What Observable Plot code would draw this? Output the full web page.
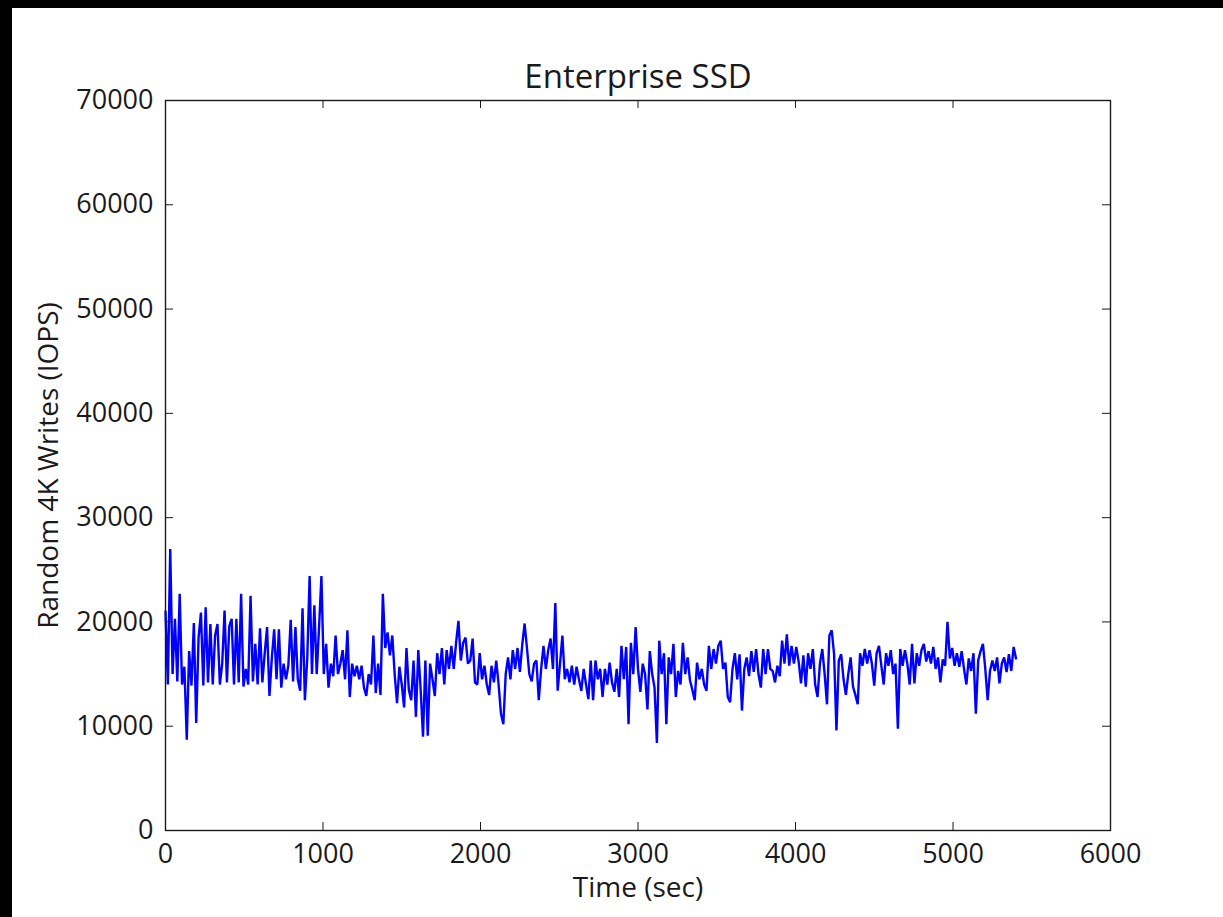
<!DOCTYPE html>
<html>
<head>
<meta charset="utf-8">
<script src="https://cdn.jsdelivr.net/npm/d3@7"></script>
<script src="https://cdn.jsdelivr.net/npm/@observablehq/plot@0.6"></script>
<style>
html, body { margin: 0; background: #000; }
body { padding: 8px 0 0 12px; width: 1211px; height: 909px; overflow: hidden; }
#chart { background: #fff; width: 1211px; height: 909px; }
</style>
</head>
<body>
<div id="chart"></div>
<script>
// ---- data ----
const title = "Enterprise SSD";
const xLabel = "Time (sec)";
const yLabel = "Random 4K Writes (IOPS)";
const xTicks = [0, 1000, 2000, 3000, 4000, 5000, 6000];
const yTicks = [0, 10000, 20000, 30000, 40000, 50000, 60000, 70000];
const sampleInterval = 15; // seconds between samples
const iops = [
  21000,14000,27000,15000,20300,14300,22700,14000,15700,8700,
  17200,13900,19900,10300,18500,20900,13900,21400,14200,19800,
  14000,18700,19800,14000,16000,21100,14200,19600,20300,14000,
  20300,14200,22700,13800,15500,14000,22500,14300,17900,14000,
  19400,14200,17000,19500,12900,16500,19300,14500,19300,13700,
  16000,14500,15800,20200,14300,19500,14500,13400,21300,12500,
  16500,24400,15000,21600,15000,19500,24400,15000,17900,13700,
  16000,14800,18700,15000,16000,17300,14500,19200,12800,16000,
  14800,15800,14500,15800,13700,12900,15000,14000,18700,13200,
  16000,13000,22700,17500,19000,16800,18700,15000,12200,15700,
  14000,11800,17500,13500,12500,16300,10900,17300,13500,9000,
  16300,9100,16000,14500,12900,17000,15000,17500,14000,17300,
  15500,17700,15500,18000,20100,16300,18000,18500,16000,16300,
  18400,14200,14000,17000,14500,15800,14000,13000,15800,14200,
  16300,14000,11200,10200,15000,16600,14500,17300,15500,17500,
  15200,17800,19850,17500,15000,14300,16000,16300,12500,15500,
  17700,15500,17300,18400,15500,21800,13400,16000,18700,14500,
  15500,14200,15800,14000,15700,14500,13400,15500,14000,12600,
  16300,12500,16300,14500,15500,12800,15500,14000,16100,14200,
  13300,15500,12800,17700,14500,17600,10200,18000,15000,19500,
  15500,13300,16000,15000,11600,17200,15000,13700,8400,18200,
  15000,17000,10200,16600,15000,17900,12800,15300,14000,18000,
  15000,16600,14400,13500,12500,16100,14500,15500,14000,13400,
  17700,15500,17400,16000,17700,18200,15500,16100,12800,12300,
  15500,17000,14500,16900,11500,15500,16600,14800,17200,15200,
  17400,15000,13700,17400,15000,17400,15500,15300,14200,15800,
  14800,18200,16000,18800,15800,17700,16000,17600,16200,14100,
  16800,13800,17000,15500,17400,14000,12800,16000,17400,15000,
  12100,18700,19200,16900,9600,16300,16900,14500,13000,15000,
  16600,13800,13000,12100,17000,15800,17400,16000,17300,16000,
  13900,17000,17700,15800,14000,17000,15800,17300,15000,16000,
  9750,17400,15800,17300,16000,14000,17900,14100,17000,15800,
  17300,17900,16200,17200,16000,17600,15500,16600,14200,16400,
  15800,20000,16500,17500,15800,17000,15700,17200,15500,14000,
  16500,15300,17000,11200,16300,17200,17900,15500,12500,15300,
  16300,15300,16600,14100,16000,16600,15200,16900,15300,17600,
  16500
];

// ---- chart ----
const data = iops.map((v, i) => ({t: i * sampleInterval, v}));
const W = 1211, H = 909;
const mL = 153, mT = 92, mR = 113, mB = 87;
const innerW = W - mL - mR, innerH = H - mT - mB;
const tickLen = 8;
const fmt = d => String(d);
const ink = "#1a1a1a";

const chart = Plot.plot({
  width: W,
  height: H,
  marginLeft: mL,
  marginTop: mT,
  marginRight: mR,
  marginBottom: mB,
  style: {background: "#fff", fontFamily: "'Open Sans', sans-serif", color: ink, overflow: "visible"},
  x: {domain: [0, 6000]},
  y: {domain: [0, 70000]},
  marks: [
    Plot.line(data, {x: "t", y: "v", stroke: "#0000ff", strokeWidth: 2.4, strokeLinejoin: "miter", strokeMiterlimit: 2}),
    Plot.frame({stroke: ink, strokeWidth: 1.4}),
    Plot.tickX(xTicks, {x: d => d, insetTop: innerH - tickLen, stroke: ink}),
    Plot.tickX(xTicks, {x: d => d, insetBottom: innerH - tickLen, stroke: ink}),
    Plot.tickY(yTicks, {y: d => d, insetRight: innerW - tickLen, stroke: ink}),
    Plot.tickY(yTicks, {y: d => d, insetLeft: innerW - tickLen, stroke: ink}),
    Plot.axisX(xTicks, {tickSize: 0, tickPadding: 13, tickFormat: fmt, fontSize: 27, label: null}),
    Plot.axisY(yTicks, {tickSize: 0, tickPadding: 12, tickFormat: fmt, fontSize: 27, label: null}),
    Plot.text([title], {text: d => d, frameAnchor: "top", dy: -23, fontSize: 33, lineAnchor: "middle"}),
    Plot.text([xLabel], {text: d => d, frameAnchor: "bottom", dy: 58, fontSize: 28, lineAnchor: "middle"}),
    Plot.text([yLabel], {text: d => d, frameAnchor: "left", dx: -116, rotate: -90, fontSize: 28, textAnchor: "middle", lineAnchor: "middle"})
  ]
});
document.getElementById("chart").appendChild(chart);
</script>
</body>
</html>
